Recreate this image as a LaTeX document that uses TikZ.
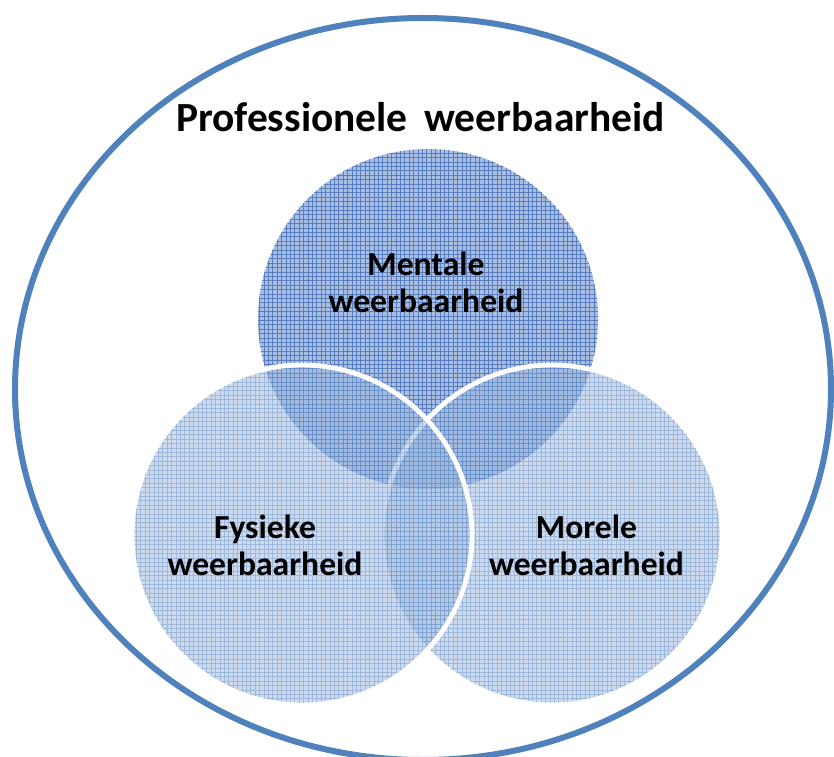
\documentclass[tikz,border=0pt]{standalone}
\usepackage{fontspec}
\setmainfont{Carlito}
\definecolor{outerblue}{RGB}{79,129,189}
\definecolor{mfill}{RGB}{168,191,227}
\definecolor{mline}{RGB}{88,126,190}
\definecolor{sfill}{RGB}{159,185,223}
\definecolor{sline}{RGB}{79,129,189}
\tikzset{
  outerring/.style={draw=outerblue, line width=4.5pt},
  mentalfill/.style={fill=mfill},
  sidefill/.style={fill=sfill, fill opacity=0.5},
  gridM/.style={draw=mline, line width=0.6pt},
  gridS/.style={draw=sline, draw opacity=0.38, line width=0.6pt},
  rim/.style={draw=white, line width=3.6pt},
  lbl/.style={font=\bfseries\fontsize{25.2pt}{27.8pt}\selectfont, align=center, text=black, inner sep=0pt},
  ttl/.style={font=\bfseries\fontsize{31.1pt}{37pt}\selectfont, text=black, inner sep=0pt, anchor=base},
}
\begin{document}
\begin{tikzpicture}[x=0.75pt,y=0.75pt]
\useasboundingbox (0,0) rectangle (834,756);
\clip (0,0) rectangle (834,756);
\fill[white] (0,0) rectangle (834,756);

\coordinate (cO) at (423,367);
\coordinate (cM) at (428,437);
\coordinate (cF) at (302,221);
\coordinate (cR) at (552,221);

% outer ellipse
\draw[outerring] (cO) ellipse [x radius=408, y radius=371];

% Mental circle
\fill[mentalfill] (cM) circle [radius=170];
\begin{scope}
  \clip (cM) circle [radius=170];
  \draw[gridM, step=4.4] (0,0) grid (834,756);
\end{scope}

% Morele circle
\fill[sidefill] (cR) circle [radius=170];
\begin{scope}
  \clip (cR) circle [radius=170];
  \draw[gridS, step=4.4] (0,0) grid (834,756);
\end{scope}
\draw[rim] (cR) circle [radius=170];

% Fysieke circle
\fill[sidefill] (cF) circle [radius=170];
\begin{scope}
  \clip (cF) circle [radius=170];
  \draw[gridS, step=4.4] (0,0) grid (834,756);
\end{scope}
\draw[rim] (cF) circle [radius=170];

% labels
\node[ttl] (title) at (420.5,624) {Professionele\hspace{0.4em}weerbaarheid};
\node[lbl] (mentaal) at (426,474) {Mentale\\weerbaarheid};
\node[lbl] (fysiek) at (265,211) {Fysieke\\weerbaarheid};
\node[lbl] (moreel) at (586.5,211) {Morele\\weerbaarheid};
\end{tikzpicture}
\end{document}
